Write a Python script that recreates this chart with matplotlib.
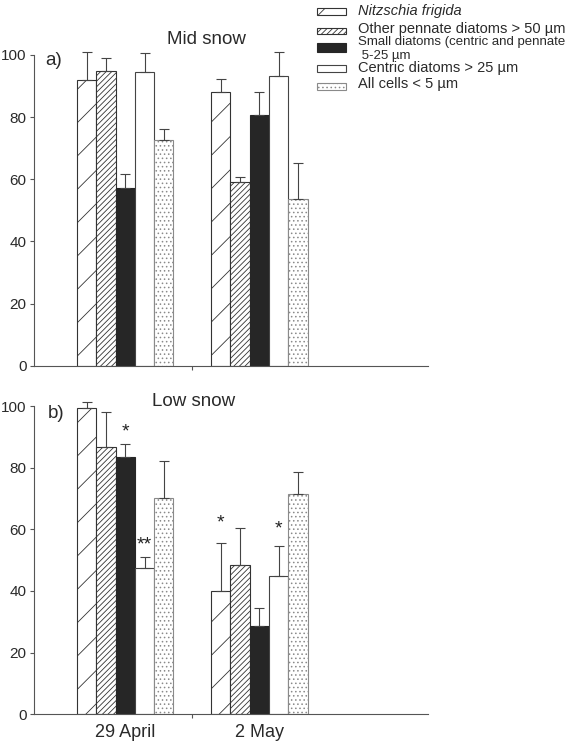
import matplotlib
matplotlib.use("Agg")
import matplotlib.pyplot as plt
from matplotlib.patches import Rectangle
import numpy as np

plt.rcParams['font.family'] = ['Liberation Sans', 'DejaVu Sans']
plt.rcParams['hatch.linewidth'] = 0.6

# ---------------- data ----------------
dates = ['29 April', '2 May']
series = ['Nitzschia frigida',
          'Other pennate diatoms > 50 µm',
          'Small diatoms (centric and pennate',
          'Centric diatoms > 25 µm',
          'All cells < 5 µm']
series_line2 = ['', '', ' 5-25 µm', '', '']

mid_vals = [[92.0, 88.2], [94.8, 59.2], [57.3, 80.7], [94.6, 93.2], [72.6, 53.6]]
mid_upper = [[101.0, 92.2], [98.9, 60.8], [61.6, 88.2], [100.5, 101.0], [76.1, 65.1]]

low_vals = [[99.4, 40.0], [86.8, 48.3], [83.3, 28.8], [47.5, 44.7], [70.2, 71.4]]
low_upper = [[101.4, 55.6], [98.2, 60.3], [87.6, 34.4], [51.0, 54.5], [82.1, 78.7]]

# significance marks in low snow panel: (date index, series index, y, text)
low_marks_date = [0, 0, 1, 1]
low_marks_series = [2, 3, 0, 3]
low_marks_y = [91.5, 55.0, 62.0, 60.0]
low_marks_text = ['*', '**', '*', '*']

yticks = [0, 20, 40, 60, 80, 100]

# ---------------- style ----------------
facecolors = ['white', 'white', '#262626', 'white', 'white']
edgecolors = ['#333333', '#333333', '#262626', '#444444', '#8a8a8a']
hatches = ['/', '//////', None, None, '....']

W, H = 565, 748
fig = plt.figure(figsize=(W / 100, H / 100), dpi=100)

def fx(px):
    return px / W

def fy(py):
    return 1 - py / H

left = fx(34)
width = fx(428) - left
ax_top = fig.add_axes([left, fy(365.7), width, fy(55) - fy(365.7)])
ax_bot = fig.add_axes([left, fy(714.3), width, fy(406) - fy(714.3)])

bw = 0.144
x = np.arange(len(dates))
tc = '#2a2a2a'

def draw(ax, vals, upper, show_labels):
    for i in range(len(series)):
        xs = x + (i - 2) * bw
        v = np.array(vals[i])
        u = np.array(upper[i])
        ax.bar(xs, v, width=bw, facecolor=facecolors[i], edgecolor=edgecolors[i],
               hatch=hatches[i], linewidth=0.8, zorder=2)
        eb = ax.errorbar(xs, v, yerr=[np.zeros_like(v), u - v], fmt='none',
                         ecolor='#444444', elinewidth=0.8, capsize=3.6,
                         capthick=0.8, zorder=3)
        for art in eb.lines:
            if art is None:
                continue
            arts = art if isinstance(art, (tuple, list)) else [art]
            for a in arts:
                a.set_clip_on(False)
    ax.set_xlim(-0.680, 2.258)
    ax.set_ylim(0, 100)
    for s in ['top', 'right']:
        ax.spines[s].set_visible(False)
    for s in ['left', 'bottom']:
        ax.spines[s].set_color('#555555')
        ax.spines[s].set_linewidth(0.8)
    ax.set_yticks(yticks)
    ax.set_yticklabels([str(t) for t in yticks])
    ax.tick_params(axis='y', direction='out', length=3.2, width=0.8,
                   color='#555555', pad=2.2, labelsize=11, labelcolor=tc)
    ax.set_xticks(x)
    ax.set_xticks([0.5], minor=True)
    ax.tick_params(axis='x', which='major', length=0, pad=7, labelsize=13,
                   labelcolor=tc)
    ax.tick_params(axis='x', which='minor', length=3, width=0.8, color='#555555',
                   direction='out')
    if show_labels:
        ax.set_xticklabels(dates)
    else:
        ax.set_xticklabels([])

draw(ax_top, mid_vals, mid_upper, False)
draw(ax_bot, low_vals, low_upper, True)

for d, s, yv, t in zip(low_marks_date, low_marks_series, low_marks_y, low_marks_text):
    ax_bot.text(x[d] + (s - 2) * bw, yv, t, ha='center', va='center',
                fontsize=14, color='#222222')

# titles and panel labels
fig.text(fx(206), fy(39), 'Mid snow', ha='center', va='center', fontsize=13.5, color=tc)
fig.text(fx(193.5), fy(401.7), 'Low snow', ha='center', va='center', fontsize=13.5, color=tc)
fig.text(fx(45), fy(60.7), 'a)', ha='left', va='center', fontsize=13.5, color=tc)
fig.text(fx(48), fy(414), 'b)', ha='left', va='center', fontsize=13.5, color=tc)

# legend (manual)
patch_y = [11.7, 31.3, 47.5, 68.3, 86.7]
patch_h = [6.7, 6.0, 8.0, 6.7, 6.7]
text_y = [11.0, 29.5, 41.7, 67.7, 84.3]
text_size = [10.5, 10.5, 9.5, 10.5, 10.5]
for i in range(len(series)):
    ph = patch_h[i]
    r = Rectangle((fx(317), fy(patch_y[i] + ph / 2)), fx(346) - fx(317), ph / H,
                  transform=fig.transFigure, facecolor=facecolors[i],
                  edgecolor=edgecolors[i], hatch=hatches[i], linewidth=0.8)
    fig.patches.append(r)
    fig.text(fx(358), fy(text_y[i]), series[i], ha='left', va='center',
             fontsize=text_size[i], color=tc,
             style='italic' if i == 0 else 'normal')
    if series_line2[i]:
        fig.text(fx(358), fy(56), series_line2[i], ha='left', va='center',
                 fontsize=9.5, color=tc)

fig.savefig('out.png', dpi=100)
